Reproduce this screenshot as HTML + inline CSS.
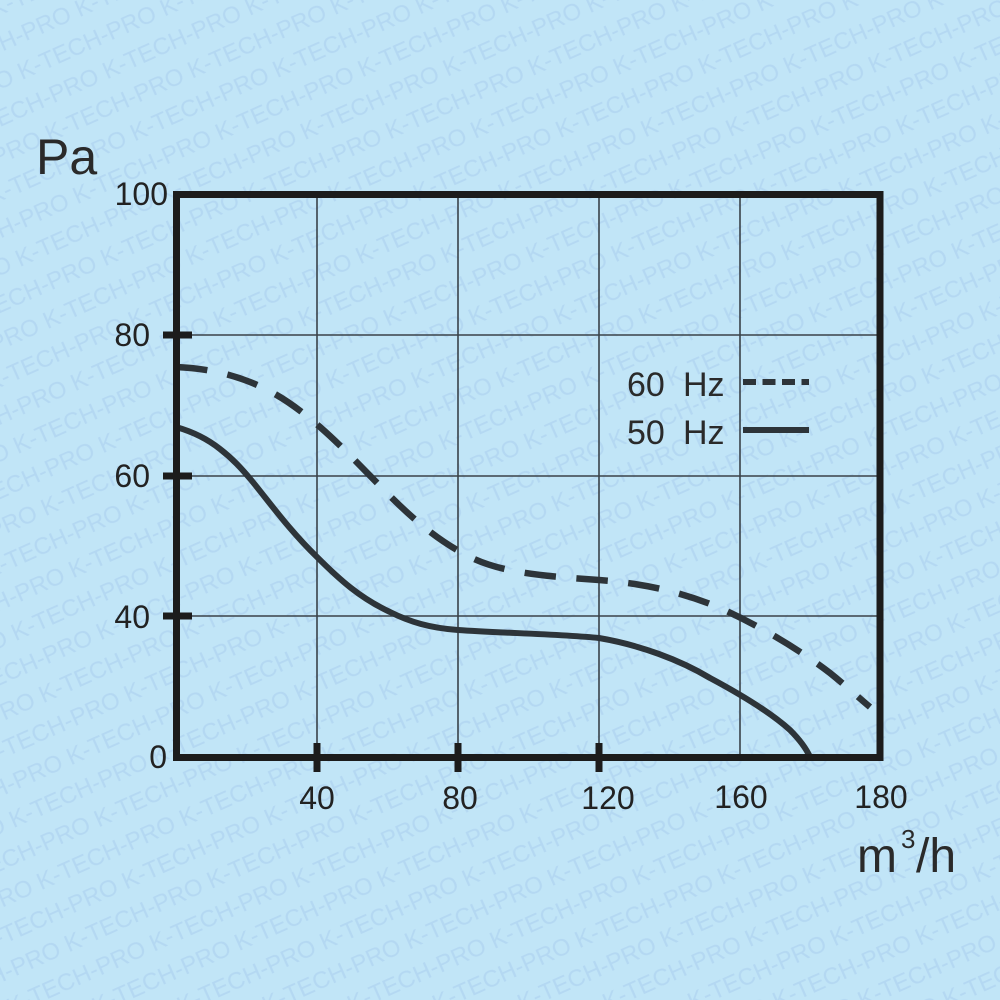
<!DOCTYPE html>
<html>
<head>
<meta charset="utf-8">
<style>
html,body{margin:0;padding:0;background:#c1e5f7;}
svg{display:block;}
</style>
</head>
<body>
<svg width="1000" height="1000" viewBox="0 0 1000 1000" xmlns="http://www.w3.org/2000/svg">
  <defs>
    <pattern id="wm" patternUnits="userSpaceOnUse" width="156" height="68" patternTransform="rotate(-24 500 500)">
      <text x="0" y="24" font-family="Liberation Sans, Arial, sans-serif" font-size="24" fill="#b4d8f2">K-TECH-PRO</text>
      <text x="-78" y="58" font-family="Liberation Sans, Arial, sans-serif" font-size="24" fill="#b4d8f2">K-TECH-PRO</text>
      <text x="78" y="58" font-family="Liberation Sans, Arial, sans-serif" font-size="24" fill="#b4d8f2">K-TECH-PRO</text>
    </pattern>
  </defs>
  <rect x="0" y="0" width="1000" height="1000" fill="#c1e5f7"/>
  <rect x="0" y="0" width="1000" height="1000" fill="url(#wm)"/>

  <!-- grid -->
  <g stroke="#3a4249" stroke-width="1.6">
    <line x1="317" y1="195" x2="317" y2="757"/>
    <line x1="458" y1="195" x2="458" y2="757"/>
    <line x1="599" y1="195" x2="599" y2="757"/>
    <line x1="740" y1="195" x2="740" y2="757"/>
    <line x1="176" y1="335" x2="880" y2="335"/>
    <line x1="176" y1="476" x2="880" y2="476"/>
    <line x1="176" y1="616" x2="880" y2="616"/>
  </g>

  <!-- curves -->
  <path id="c50" fill="none" stroke="#2d3439" stroke-width="6" stroke-linejoin="round" stroke-linecap="butt"
    d="M176,427 C190,431 205,437 220,449 C233,459 242,469 252,481 C270,503 290,531 317,557 C340,580 360,598 390,612 C410,622 430,628 458,630 C500,633 560,634 599,638 C640,645 680,660 710,678 C740,694 770,712 790,730 C800,740 806,748 810,757"/>
  <path id="c60" fill="none" stroke="#2d3439" stroke-width="6.5" stroke-linejoin="round" stroke-linecap="butt" stroke-dasharray="31.5 20.5"
    d="M176,367 C200,368 225,372 250,382 C280,394 300,410 320,427 C345,449 365,471 390,496 C415,521 440,542 470,557 C500,572 540,576 599,580 C640,583 680,591 720,608 C760,626 800,650 830,673 C845,685 858,697 870,707"/>

  <!-- frame -->
  <rect x="176.5" y="194.5" width="703.5" height="563" fill="none" stroke="#1c1c1c" stroke-width="7"/>

  <!-- ticks -->
  <g fill="#1c1c1c">
    <rect x="163" y="331.5" width="29" height="7"/>
    <rect x="163" y="472.5" width="29" height="7"/>
    <rect x="163" y="612.5" width="29" height="7"/>
    <rect x="313.5" y="743" width="7" height="29"/>
    <rect x="454.5" y="743" width="7" height="29"/>
    <rect x="595.5" y="743" width="7" height="29"/>
  </g>

  <!-- y labels -->
  <g font-family="Liberation Sans, Arial, sans-serif" font-size="32" fill="#222" text-anchor="end">
    <text x="168" y="205">100</text>
    <text x="150" y="346">80</text>
    <text x="150" y="487">60</text>
    <text x="150" y="628">40</text>
    <text x="167" y="768">0</text>
  </g>
  <!-- x labels -->
  <g font-family="Liberation Sans, Arial, sans-serif" font-size="32" fill="#222" text-anchor="middle">
    <text x="317" y="809">40</text>
    <text x="460" y="809">80</text>
    <text x="608" y="809">120</text>
    <text x="741" y="808">160</text>
    <text x="881" y="808">180</text>
  </g>

  <!-- axis titles -->
  <text x="36" y="174" font-family="Liberation Sans, Arial, sans-serif" font-size="50" fill="#2a2a2a">Pa</text>
  <text x="857" y="872" font-family="Liberation Sans, Arial, sans-serif" font-size="48" fill="#2a2a2a">m</text>
  <text x="901" y="848" font-family="Liberation Sans, Arial, sans-serif" font-size="26" fill="#2a2a2a">3</text>
  <text x="916" y="872" font-family="Liberation Sans, Arial, sans-serif" font-size="48" fill="#2a2a2a">/h</text>

  <!-- legend -->
  <g font-family="Liberation Sans, Arial, sans-serif" font-size="34" fill="#2a2a2a">
    <text x="627" y="396">60</text>
    <text x="683" y="396">Hz</text>
    <text x="627" y="444">50</text>
    <text x="683" y="444">Hz</text>
  </g>
  <line x1="743" y1="382" x2="809" y2="382" stroke="#2d3439" stroke-width="6" stroke-dasharray="13 6.5"/>
  <line x1="743" y1="430" x2="809" y2="430" stroke="#2d3439" stroke-width="6"/>
</svg>
</body>
</html>
